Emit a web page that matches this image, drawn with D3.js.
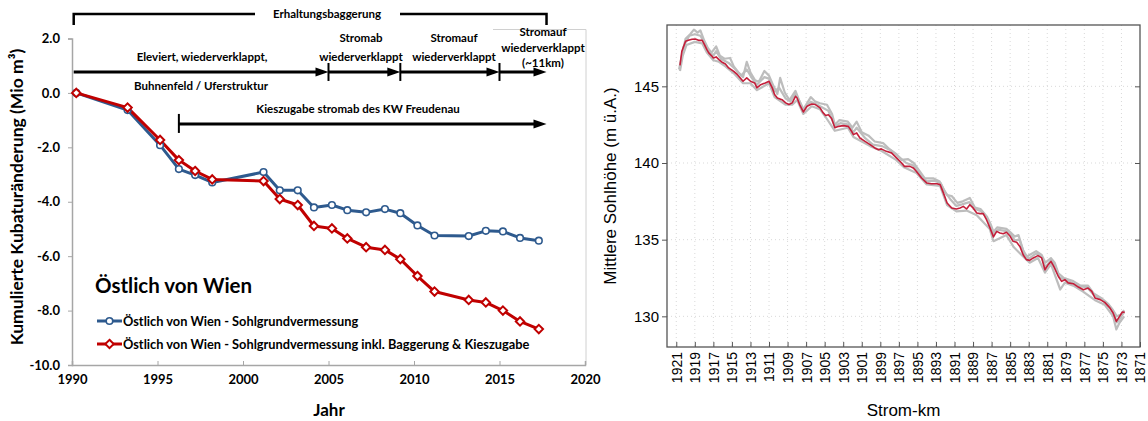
<!DOCTYPE html>
<html><head><meta charset="utf-8">
<script src="https://cdn.jsdelivr.net/npm/d3@7"></script>
<style>
html,body{margin:0;padding:0;background:#fff;}
svg{display:block;}
.lft text{font-family:Lato,"Open Sans",sans-serif;font-weight:bold;fill:#000;}
.rgt text{font-family:"Liberation Sans",Arial,sans-serif;fill:#000;}
</style></head>
<body>
<script>
// ---------- Left chart data ----------
const years = [1990.25,1993.25,1995.15,1996.25,1997.2,1998.2,2001.2,2002.15,2003.2,2004.15,2005.2,2006.1,2007.2,2008.3,2009.2,2010.2,2011.2,2013.2,2014.2,2015.2,2016.2,2017.3];
const blueVals = [0,-0.63,-1.92,-2.80,-3.02,-3.29,-2.91,-3.58,-3.58,-4.21,-4.12,-4.31,-4.39,-4.27,-4.42,-4.87,-5.24,-5.26,-5.07,-5.09,-5.33,-5.43];
const redVals  = [0,-0.54,-1.73,-2.47,-2.87,-3.18,-3.24,-3.90,-4.12,-4.89,-4.98,-5.35,-5.67,-5.77,-6.11,-6.73,-7.30,-7.61,-7.70,-8.00,-8.40,-8.68];
const yTicksLeft = [2,0,-2,-4,-6,-8,-10];
const xTicksLeft = [1990,1995,2000,2005,2010,2015,2020];
const seriesNames = ["Östlich von Wien - Sohlgrundvermessung","Östlich von Wien - Sohlgrundvermessung inkl. Baggerung & Kieszugabe"];
// annotation periods (years)
const phaseBreaks = [1990.1,2005.0,2009.2,2015.0,2017.75];
const kiesPeriod = [1996.25,2017.75];
const baggerPeriod = [1990.1,2017.75];

// ---------- Right chart data ----------
const redKm = [1920.6,1920.4,1920.0,1919.7,1919.3,1918.95,1918.6,1918.2,1918.0,1917.7,1917.5,1917.15,1917.0,1916.7,1916.4,1916.1,1915.7,1915.35,1914.8,1914.4,1914.1,1913.8,1913.4,1913.0,1912.55,1912.3,1911.9,1911.4,1911.0,1910.65,1910.4,1910.1,1909.6,1909.2,1908.85,1908.5,1908.15,1907.97,1907.7,1907.3,1906.9,1906.4,1906.0,1905.5,1905.2,1904.9,1904.6,1904.25,1903.9,1903.5,1903.0,1902.45,1902.1,1901.9,1901.55,1901.2,1900.65,1900.1,1899.6,1899.2,1898.9,1898.35,1897.8,1897.25,1896.7,1896.4,1895.8,1895.45,1895.1,1894.55,1894.0,1893.5,1892.9,1892.55,1892.2,1891.8,1891.3,1890.8,1890.4,1890.05,1889.7,1889.35,1889.0,1888.6,1888.25,1887.9,1887.55,1887.2,1886.8,1886.45,1886.1,1885.75,1885.4,1885.0,1884.7,1884.3,1883.95,1883.6,1883.25,1882.9,1882.5,1882.0,1881.6,1881.25,1880.9,1880.6,1880.3,1879.8,1879.45,1879.1,1878.75,1878.2,1877.65,1877.1,1876.6,1876.2,1875.85,1875.3,1874.8,1874.25,1873.9,1873.55,1873.2,1872.9,1872.65];
const redZ = [146.37,147.28,147.94,148.00,148.07,148.09,148.00,148.00,147.77,147.39,147.18,146.96,146.85,146.92,146.74,146.59,146.46,146.20,145.98,145.76,145.55,145.33,145.55,145.33,145.22,144.90,145.11,145.22,145.33,144.90,144.46,144.24,144.13,143.92,143.81,143.92,144.35,144.24,143.81,143.33,143.70,143.85,143.81,143.60,143.30,143.10,143.15,142.90,142.30,142.39,142.44,142.39,142.07,141.85,141.96,141.63,141.41,141.20,140.98,140.87,140.92,140.76,140.66,140.33,140.00,139.78,139.78,139.68,139.45,139.02,138.70,138.65,138.65,138.59,138.05,137.39,137.07,137.00,137.07,137.17,137.00,137.28,137.07,136.74,136.70,136.70,136.30,135.80,135.18,135.54,135.44,135.39,135.48,135.22,134.90,134.83,134.56,134.02,133.70,133.65,133.81,133.96,133.81,133.04,133.37,133.58,133.26,132.60,132.28,132.39,132.18,132.13,131.91,131.73,131.84,131.63,131.20,131.09,130.91,130.55,130.22,129.67,130.00,130.28,130.26];

const gray1Km = [1920.7,1920.4,1920.0,1919.5,1919.1,1918.7,1918.4,1918.0,1917.6,1917.2,1916.7,1916.3,1915.8,1915.2,1914.8,1914.3,1913.8,1913.4,1913.0,1912.5,1912.1,1911.5,1911.0,1910.5,1910.1,1909.8,1909.3,1908.8,1908.15,1907.7,1907.3,1906.5,1906.0,1905.5,1904.75,1904.2,1903.9,1903.4,1902.5,1902.0,1901.55,1901.0,1900.3,1899.6,1898.7,1898.0,1897.3,1896.7,1896.0,1895.4,1894.8,1894.2,1893.3,1892.6,1892.2,1891.8,1891.3,1890.7,1890.1,1889.35,1888.8,1888.2,1887.5,1887.1,1886.8,1886.4,1885.4,1885.0,1884.5,1884.1,1883.6,1883.2,1882.2,1881.6,1881.2,1880.6,1880.2,1879.8,1879.2,1878.2,1877.4,1876.6,1876.0,1875.2,1874.4,1873.9,1873.5,1873.1,1872.7];
const gray1Z = [146.1,147.0,148.1,148.4,148.7,148.5,148.65,148.0,147.5,147.2,147.6,147.0,146.8,146.85,146.3,145.9,145.6,146.6,145.9,145.4,145.3,146.0,145.7,145.0,144.5,145.55,144.6,144.1,144.7,144.0,143.5,144.3,144.0,143.9,143.8,143.2,142.5,142.8,142.7,142.3,142.7,142.0,141.8,141.4,141.3,140.9,140.6,140.2,140.25,140.0,139.5,139.0,139.0,138.8,138.3,137.9,137.85,137.4,137.5,137.72,137.1,137.0,136.5,136.0,135.5,135.8,135.7,135.5,135.2,135.3,134.3,133.9,134.25,134.0,133.5,133.8,133.5,132.8,132.5,132.3,132.0,132.0,131.5,131.2,130.8,130.4,130.0,130.1,130.4];

const gray2Km = [1920.6,1920.2,1919.6,1919.0,1918.4,1918.0,1917.5,1917.0,1916.7,1916.2,1915.3,1914.6,1914.0,1913.4,1912.8,1912.3,1911.5,1911.0,1910.4,1909.9,1909.2,1908.7,1908.15,1907.6,1907.3,1906.5,1905.8,1905.2,1904.6,1903.9,1903.3,1902.4,1901.9,1901.55,1900.6,1899.8,1898.8,1897.8,1897.0,1896.2,1895.5,1894.9,1894.0,1893.2,1892.5,1892.0,1891.4,1890.8,1890.2,1889.4,1888.8,1888.1,1887.5,1887.1,1886.8,1886.3,1885.4,1884.9,1884.5,1884.0,1883.5,1883.0,1882.2,1881.6,1881.2,1880.6,1880.2,1879.7,1879.2,1878.4,1877.5,1876.7,1876.0,1875.2,1874.4,1873.9,1873.5,1873.1,1872.7];
const gray2Z = [146.2,147.6,148.3,148.4,148.3,147.9,147.3,147.0,147.3,146.8,146.5,146.1,145.7,146.1,145.5,145.1,145.6,145.5,144.7,144.9,144.2,144.0,144.55,143.9,143.45,144.0,143.8,143.6,143.4,142.4,142.6,142.5,142.0,142.3,141.6,141.2,141.1,140.8,140.4,140.0,139.85,139.4,138.8,138.85,138.7,138.1,137.6,137.2,137.3,137.45,137.0,136.85,136.4,135.9,135.35,135.65,135.55,135.3,134.95,135.0,134.1,133.75,134.1,133.9,133.2,133.65,133.35,132.55,132.4,132.2,131.95,131.9,131.4,131.15,130.7,130.25,129.6,129.9,130.3];

const gray3Km = [1920.6,1920.3,1919.9,1919.0,1918.2,1917.7,1917.0,1916.4,1915.7,1914.8,1913.8,1913.0,1912.3,1911.0,1910.4,1909.2,1908.5,1907.97,1907.3,1906.4,1905.5,1904.9,1903.9,1902.5,1901.9,1900.1,1898.9,1897.3,1896.4,1895.1,1894.0,1892.55,1891.8,1890.8,1889.7,1888.6,1887.2,1886.8,1885.4,1884.6,1883.6,1882.9,1882.0,1881.25,1880.6,1879.6,1879.1,1878.2,1877.1,1875.85,1874.8,1873.9,1873.55,1873.2,1872.7];
const gray3Z = [146.0,147.0,147.7,147.9,147.8,147.2,146.7,146.6,146.3,145.85,145.2,145.2,144.75,145.2,144.3,143.8,143.8,144.1,143.2,143.7,143.5,143.0,142.1,142.3,141.7,141.1,140.8,140.2,139.7,139.35,138.6,138.5,137.25,136.85,136.9,136.6,135.7,134.9,135.3,134.5,133.9,133.5,133.8,132.85,133.4,131.75,132.2,132.0,131.6,131.05,130.75,130.0,129.15,129.6,130.0];

const yTicksRight = [130,135,140,145];
const xTicksRight = [1921,1919,1917,1915,1913,1911,1909,1907,1905,1903,1901,1899,1897,1895,1893,1891,1889,1887,1885,1883,1881,1879,1877,1875,1873,1871];

// ---------- SVG ----------
const svg = d3.select("body").append("svg").attr("width",1148).attr("height",421);
svg.append("rect").attr("width",1148).attr("height",421).attr("fill","#fff");

// ===== LEFT CHART =====
const L = svg.append("g").attr("class","lft");
const xL = d3.scaleLinear().domain([1990,2020]).range([72,585]);
const yL = d3.scaleLinear().domain([-10,2]).range([365,38.5]);
const blue = "#2e5a8e", red = "#c00000";

// frame (chart border pieces)
L.append("line").attr("x1",493).attr("x2",586).attr("y1",29.5).attr("y2",29.5).attr("stroke","#d0d0d0");
L.append("line").attr("x1",586).attr("x2",586).attr("y1",29.5).attr("y2",365).attr("stroke","#d0d0d0");

const axY = L.append("g").attr("transform","translate(72,0)")
  .call(d3.axisLeft(yL).tickValues(yTicksLeft).tickFormat(d=>d.toFixed(1)).tickSize(4).tickPadding(8));
axY.select(".domain").attr("stroke","#a6a6a6").attr("stroke-width",1.5);
axY.selectAll(".tick line").attr("stroke","#a6a6a6");
axY.selectAll("text").attr("font-size",13);

const axX = L.append("g").attr("transform","translate(0,365)")
  .call(d3.axisBottom(xL).tickValues(xTicksLeft).tickFormat(d3.format("d")).tickSize(-4).tickPadding(10));
axX.select(".domain").attr("stroke","#a6a6a6").attr("stroke-width",1.5);
axX.selectAll(".tick line").attr("stroke","#a6a6a6");
axX.selectAll("text").attr("font-size",13);

L.append("text").attr("transform","translate(23,197) rotate(-90)").attr("text-anchor","middle")
  .attr("font-size",17.5).text("Kumulierte Kubaturänderung (Mio m³)");
L.append("text").attr("x",329).attr("y",416).attr("text-anchor","middle").attr("font-size",17).text("Jahr");

// annotations
const ann = L.append("g");
const arrowHead = (x, y) => ann.append("path")
  .attr("d",`M${x},${y} L${x-13},${y-4.5} L${x-13},${y+4.5} Z`).attr("fill","#000");
const yAnn1 = yL(0.77), yAnn2 = yL(-1.14), yBr = 14;
// Erhaltungsbaggerung bracket
ann.append("path").attr("d",`M${xL(baggerPeriod[0])},25 L${xL(baggerPeriod[0])},${yBr} L255,${yBr}`)
  .attr("fill","none").attr("stroke","#000").attr("stroke-width",2.5);
ann.append("path").attr("d",`M400,${yBr} L${xL(baggerPeriod[1])},${yBr} L${xL(baggerPeriod[1])},25`)
  .attr("fill","none").attr("stroke","#000").attr("stroke-width",2.5);
ann.append("text").attr("x",327).attr("y",yBr+4).attr("text-anchor","middle").attr("font-size",11.5).text("Erhaltungsbaggerung");
// phases arrow line
for (let i=0;i<phaseBreaks.length-1;i++){
  const x0 = xL(phaseBreaks[i]), x1 = xL(phaseBreaks[i+1]);
  ann.append("line").attr("x1",x0).attr("x2",x1-6).attr("y1",yAnn1).attr("y2",yAnn1).attr("stroke","#000").attr("stroke-width",3);
  arrowHead(x1, yAnn1);
  if (i>0) ann.append("line").attr("x1",x0).attr("x2",x0).attr("y1",yAnn1-9).attr("y2",yAnn1+9).attr("stroke","#000").attr("stroke-width",2);
}
// Kieszugabe arrow
ann.append("line").attr("x1",xL(kiesPeriod[0])).attr("x2",xL(kiesPeriod[1])-6).attr("y1",yAnn2).attr("y2",yAnn2).attr("stroke","#000").attr("stroke-width",3);
ann.append("line").attr("x1",xL(kiesPeriod[0])).attr("x2",xL(kiesPeriod[0])).attr("y1",yAnn2-10).attr("y2",yAnn2+9).attr("stroke","#000").attr("stroke-width",2);
arrowHead(xL(kiesPeriod[1]), yAnn2);

const annText = (x,y,t) => ann.append("text").attr("x",x).attr("y",y).attr("text-anchor","middle").attr("font-size",11.5).text(t);
annText(202,61,"Eleviert, wiederverklappt,");
annText(201,90,"Buhnenfeld / Uferstruktur");
annText(361,42,"Stromab");
annText(361,61,"wiederverklappt");
annText(454,42,"Stromauf");
annText(454,61,"wiederverklappt");
annText(543,36,"Stromauf");
annText(543,52,"wiederverklappt");
annText(543,67,"(~11km)");
annText(358,113,"Kieszugabe stromab des KW Freudenau");

// series
const lineL = d3.line().x(d=>xL(d[0])).y(d=>yL(d[1]));
const blueData = years.map((y,i)=>[y,blueVals[i]]);
const redData = years.map((y,i)=>[y,redVals[i]]);
L.append("path").datum(blueData).attr("d",lineL).attr("fill","none").attr("stroke",blue).attr("stroke-width",3).attr("stroke-linejoin","round");
L.append("path").datum(redData).attr("d",lineL).attr("fill","none").attr("stroke",red).attr("stroke-width",3).attr("stroke-linejoin","round");
L.selectAll(".bm").data(blueData).enter().append("circle").attr("cx",d=>xL(d[0])).attr("cy",d=>yL(d[1])).attr("r",3.3)
  .attr("fill","#fff").attr("stroke",blue).attr("stroke-width",1.6);
const diamond = d3.symbol().type(d3.symbolDiamond2).size(45);
L.selectAll(".rm").data(redData).enter().append("path").attr("d",diamond)
  .attr("transform",d=>`translate(${xL(d[0])},${yL(d[1])})`)
  .attr("fill","#fff").attr("stroke",red).attr("stroke-width",2);

// title & legend
L.append("text").attr("x",95).attr("y",293).attr("font-size",20.5).text("Östlich von Wien");
const legY = [321,344];
[blue,red].forEach((c,i)=>{
  L.append("line").attr("x1",97).attr("x2",122).attr("y1",legY[i]).attr("y2",legY[i]).attr("stroke",c).attr("stroke-width",3);
  if(i===0) L.append("circle").attr("cx",109.5).attr("cy",legY[i]).attr("r",3.3).attr("fill","#fff").attr("stroke",c).attr("stroke-width",1.6);
  else L.append("path").attr("d",diamond).attr("transform",`translate(109.5,${legY[i]})`).attr("fill","#fff").attr("stroke",c).attr("stroke-width",2);
  L.append("text").attr("x",123).attr("y",legY[i]+4.5).attr("font-size",12.8).text(seriesNames[i]);
});

// ===== RIGHT CHART =====
const R = svg.append("g").attr("class","rgt");
const x0R=667, x1R=1140, y0R=25, y1R=347;
const xR = d3.scaleLinear().domain([1922,1871]).range([x0R,x1R]);
const yR = d3.scaleLinear().domain([128,149]).range([y1R,y0R]);

// grid
R.append("g").selectAll("line").data(xTicksRight.filter(d=>d<1922&&d>1871)).enter().append("line")
  .attr("x1",d=>xR(d)).attr("x2",d=>xR(d)).attr("y1",y0R).attr("y2",y1R)
  .attr("stroke","#d9d9d9").attr("stroke-dasharray","1,3");
R.append("g").selectAll("line").data(yTicksRight).enter().append("line")
  .attr("x1",x0R).attr("x2",x1R).attr("y1",d=>yR(d)).attr("y2",d=>yR(d))
  .attr("stroke","#d9d9d9").attr("stroke-dasharray","1,3");

// lines
const lineR = d3.line().x(d=>xR(d[0])).y(d=>yR(d[1]));
[[gray1Km,gray1Z],[gray2Km,gray2Z],[gray3Km,gray3Z]].forEach(([k,z])=>{
  R.append("path").datum(k.map((v,i)=>[v,z[i]])).attr("d",lineR).attr("fill","none")
   .attr("stroke","#bdbdbd").attr("stroke-width",2.2).attr("stroke-linejoin","round");
});
R.append("path").datum(redKm.map((v,i)=>[v,redZ[i]])).attr("d",lineR).attr("fill","none")
  .attr("stroke","#c41e3a").attr("stroke-width",1.6).attr("stroke-linejoin","round");

// axes
const aL = R.append("g").attr("transform",`translate(${x0R},0)`)
  .call(d3.axisLeft(yR).tickValues(yTicksRight).tickSize(5).tickPadding(3));
aL.selectAll("text").attr("font-size",15);
const aR = R.append("g").attr("transform",`translate(${x1R},0)`)
  .call(d3.axisLeft(yR).tickValues(yTicksRight).tickSize(5).tickFormat(""));
const aB = R.append("g").attr("transform",`translate(0,${y1R})`)
  .call(d3.axisBottom(xR).tickValues(xTicksRight).tickFormat(d3.format("d")).tickSize(-5));
aB.selectAll("text").attr("font-size",14).attr("transform","rotate(-90)")
  .attr("text-anchor","end").attr("x",-5).attr("y",0).attr("dy","0.35em");
[aL,aR,aB].forEach(a=>{a.select(".domain").remove(); a.selectAll(".tick line").attr("stroke","#555");});
R.append("rect").attr("x",x0R).attr("y",y0R).attr("width",x1R-x0R).attr("height",y1R-y0R)
  .attr("fill","none").attr("stroke","#555").attr("stroke-width",1.3);

R.append("text").attr("x",(x0R+x1R)/2).attr("y",416).attr("text-anchor","middle").attr("font-size",17).text("Strom-km");
R.append("text").attr("transform",`translate(616,${(y0R+y1R)/2}) rotate(-90)`).attr("text-anchor","middle").attr("font-size",17).text("Mittlere Sohlhöhe (m ü.A.)");
</script>
</body></html>
